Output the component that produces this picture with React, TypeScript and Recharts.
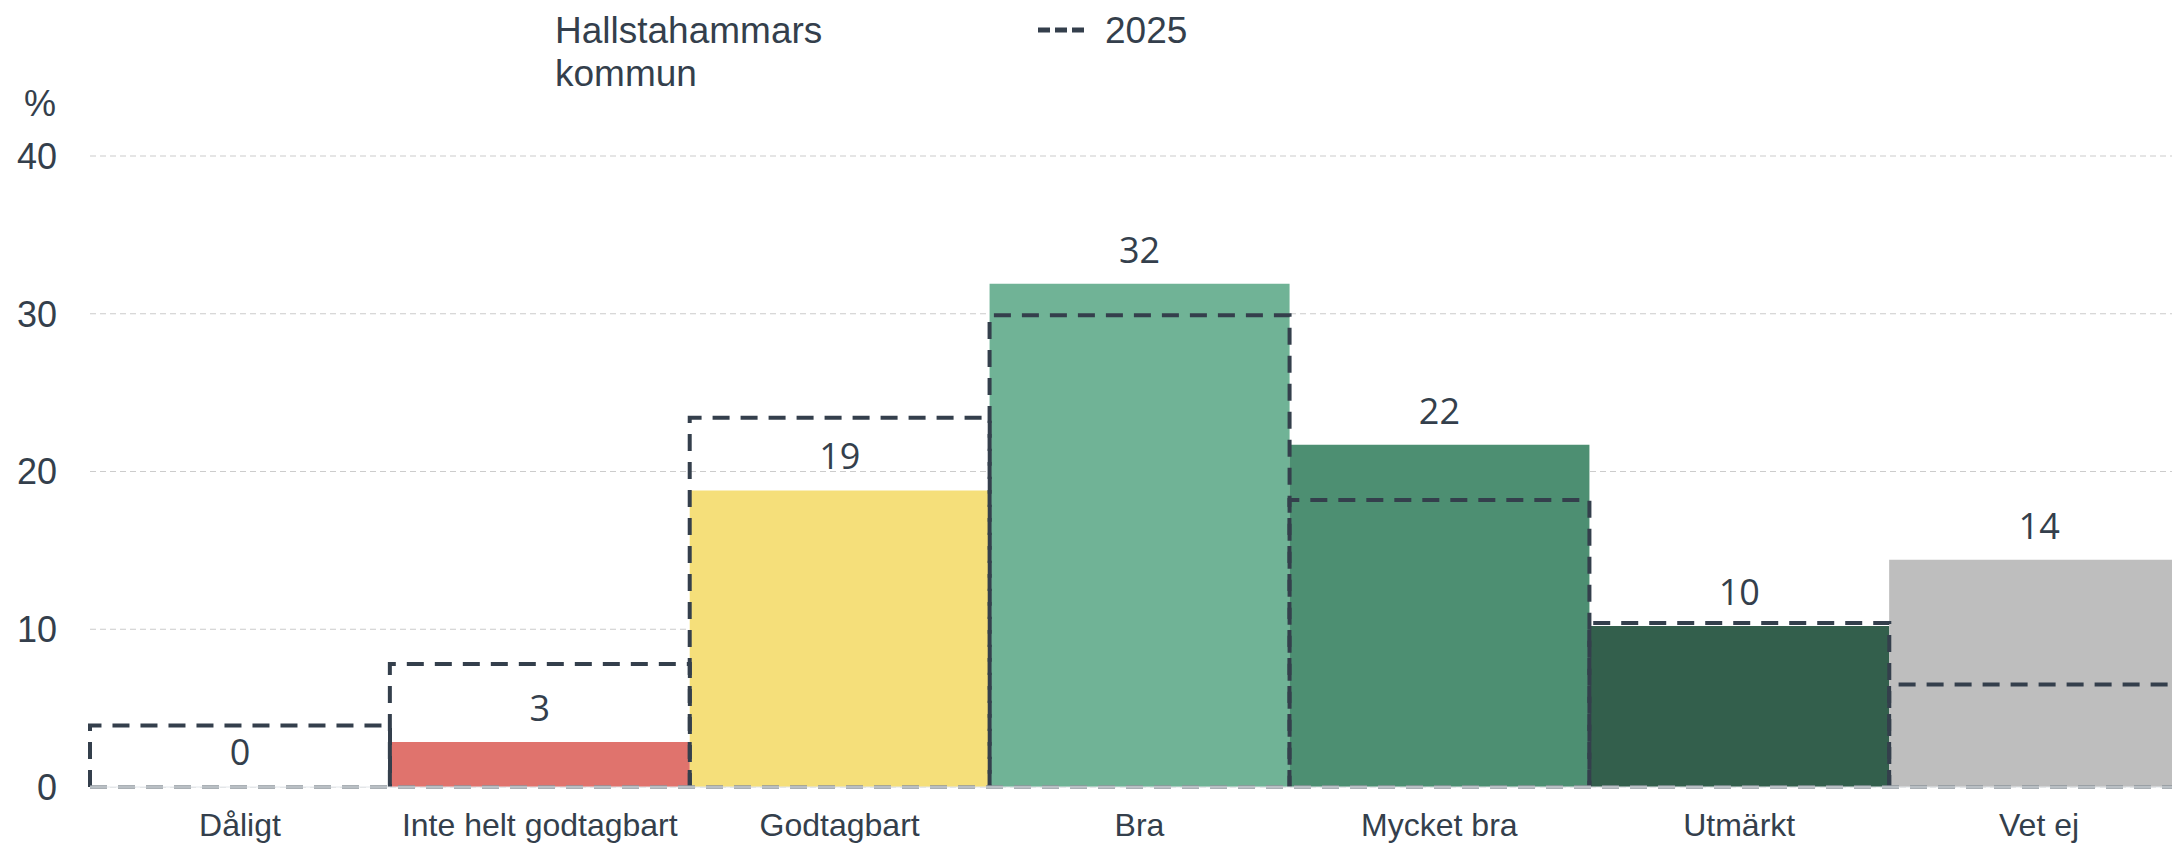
import React from 'react';
import {
  ComposedChart,
  Bar,
  XAxis,
  YAxis,
  CartesianGrid,
  Cell,
  LabelList,
  ReferenceLine,
} from 'recharts';

const categories = ['Dåligt', 'Inte helt godtagbart', 'Godtagbart', 'Bra', 'Mycket bra', 'Utmärkt', 'Vet ej'];
const currentValues = [0, 2.85, 18.8, 31.9, 21.7, 10.2, 14.4];
const values2025 = [3.9, 7.8, 23.4, 29.9, 18.2, 10.4, 6.5];
const barColors = ['#ffffff', '#e0736d', '#f5df7a', '#70b396', '#4d8f72', '#335f4c', '#bebebe'];
const yTicks = [0, 10, 20, 30, 40];
const legendMain = ['Hallstahammars', 'kommun'];
const legend2025 = '2025';

const TEXT = '#343f4c';
const DASH = '#343f4c';

const data = categories.map((name, i) => ({
  name,
  current: currentValues[i],
  prev: values2025[i],
}));

const DashedOutline = (props: any) => {
  const { x, y, width, height } = props;
  if (x == null || y == null) return null;
  const d = `M${x},${y + height} L${x},${y} L${x + width},${y} L${x + width},${y + height}`;
  return (
    <path
      d={d}
      fill="none"
      stroke={DASH}
      strokeWidth={4}
      strokeDasharray="17 11"
    />
  );
};

const ValueLabel = (props: any) => {
  const { x, y, width, value } = props;
  if (x == null || y == null || value == null) return null;
  return (
    <text
      x={x + width / 2}
      y={y - 21}
      textAnchor="middle"
      fill={TEXT}
      style={{ fontSize: 36, fontFamily: '"Open Sans", sans-serif', fontWeight: 500 }}
    >
      {String(Math.round(Number(value)))}
    </text>
  );
};

export default function App() {
  return (
    <div
      style={{
        position: 'absolute',
        left: 0,
        top: 0,
        width: 2172,
        height: 844,
        overflow: 'hidden',
        background: '#ffffff',
        fontFamily: '"Liberation Sans", Arial, sans-serif',
      }}
    >
      {/* Legend */}
      <div
        style={{
          position: 'absolute',
          left: 555,
          top: 9,
          fontSize: 37,
          lineHeight: '43px',
          color: TEXT,
        }}
      >
        <div>{legendMain[0]}</div>
        <div>{legendMain[1]}</div>
      </div>
      <div
        style={{
          position: 'absolute',
          left: 1036,
          top: 9,
          fontSize: 37,
          lineHeight: '43px',
          color: TEXT,
          display: 'flex',
          alignItems: 'center',
        }}
      >
        <svg width={52} height={43} style={{ display: 'block' }}>
          <line x1={2} y1={21} x2={50} y2={21} stroke={DASH} strokeWidth={5} strokeDasharray="12 5" />
        </svg>
        <span style={{ marginLeft: 17 }}>{legend2025}</span>
      </div>
      <div
        style={{
          position: 'absolute',
          left: 21,
          top: 82,
          width: 38,
          textAlign: 'center',
          fontSize: 36,
          lineHeight: '43px',
          color: TEXT,
        }}
      >
        %
      </div>

      <div style={{ position: 'absolute', left: 0, top: 0 }}>
        <ComposedChart
          width={2189}
          height={844}
          data={data}
          margin={{ top: 156, right: 0, bottom: 0, left: 0 }}
          barCategoryGap={0}
          barGap={0}
        >
          <CartesianGrid
            vertical={false}
            stroke="#cccccc"
            strokeDasharray="6 4"
            strokeWidth={1.2}
          />
          <XAxis
            xAxisId={0}
            dataKey="name"
            type="category"
            interval={0}
            height={57}
            axisLine={false}
            tickLine={false}
            tickMargin={20}
            tick={{ fontSize: 32, fill: TEXT, fontFamily: '"Liberation Sans", Arial, sans-serif' }}
          />
          <XAxis xAxisId="b" dataKey="name" type="category" hide />
          <YAxis
            width={90}
            domain={[0, 40]}
            ticks={yTicks}
            interval={0}
            axisLine={false}
            tickLine={false}
            tickMargin={27}
            tick={{ fontSize: 36, fill: TEXT, fontFamily: '"Liberation Sans", Arial, sans-serif' }}
          />
          <Bar xAxisId={0} dataKey="current" minPointSize={1} isAnimationActive={false}>
            {data.map((d, i) => (
              <Cell key={d.name} fill={barColors[i]} />
            ))}
            <LabelList dataKey="current" content={<ValueLabel />} />
          </Bar>
          <Bar
            xAxisId="b"
            dataKey="prev"
            isAnimationActive={false}
            shape={<DashedOutline />}
          />
          <ReferenceLine
            xAxisId={0}
            y={0}
            stroke="#8f969d"
            strokeWidth={3.5}
            strokeDasharray="17 11"
          />
          <ReferenceLine xAxisId={0} y={0} stroke="#e3e7eb" strokeWidth={1.2} />
        </ComposedChart>
      </div>
    </div>
  );
}
